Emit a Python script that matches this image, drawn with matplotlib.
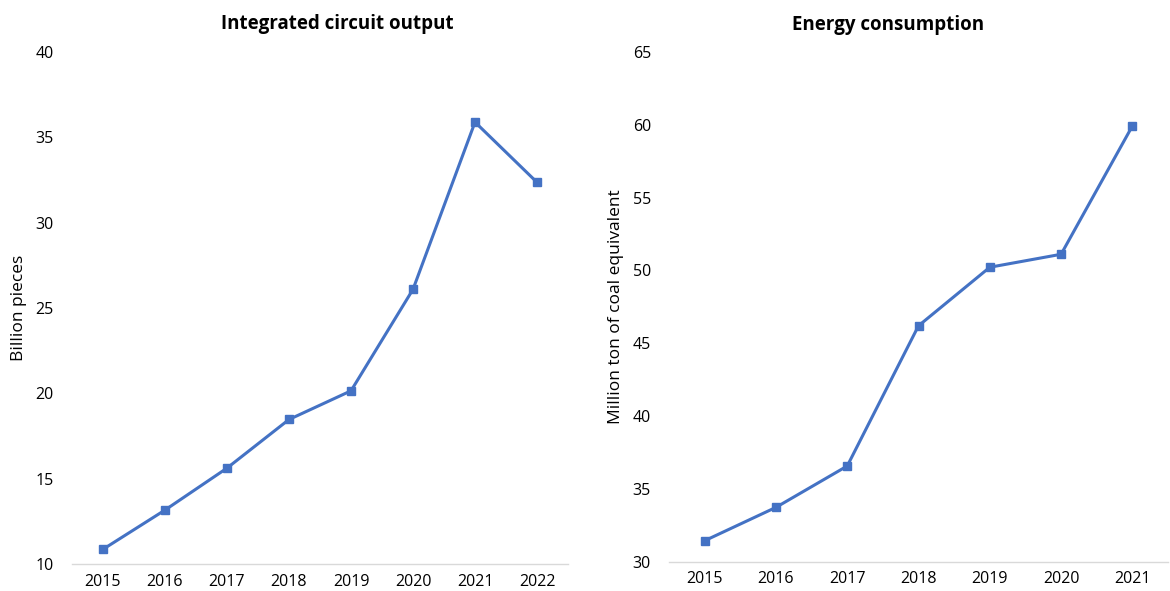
import matplotlib
matplotlib.use("Agg")
import matplotlib.pyplot as plt

plt.rcParams["font.family"] = ["Open Sans", "DejaVu Sans"]

years_ic = ["2015", "2016", "2017", "2018", "2019", "2020", "2021", "2022"]
ic_output = [10.86, 13.16, 15.62, 18.47, 20.15, 26.1, 35.9, 32.37]

years_energy = ["2015", "2016", "2017", "2018", "2019", "2020", "2021"]
energy_use = [31.44, 33.73, 36.57, 46.2, 50.22, 51.11, 59.92]

LINE_COLOR = "#4472C4"
AXIS_COLOR = "#D9D9D9"

fig = plt.figure(figsize=(11.70, 5.91), dpi=100)
ax1 = fig.add_axes([0.0615, 0.0457, 0.424, 0.866])
ax2 = fig.add_axes([0.5718, 0.0496, 0.4265, 0.8624])


def style_axes(ax, cats, vals, ylim, yticks, ylabel):
    x = list(range(len(cats)))
    ax.plot(x, vals, color=LINE_COLOR, lw=2.2, marker="s", ms=5.5,
            markeredgecolor=LINE_COLOR, markerfacecolor=LINE_COLOR)
    ax.set_xlim(-0.5, len(cats) - 0.5)
    ax.set_ylim(*ylim)
    ax.set_xticks(x)
    ax.set_xticklabels(cats)
    ax.set_yticks(yticks)
    for side in ("top", "right", "left"):
        ax.spines[side].set_visible(False)
    ax.spines["bottom"].set_color(AXIS_COLOR)
    ax.spines["bottom"].set_linewidth(1.0)
    ax.tick_params(axis="both", length=0, labelsize=11.5, colors="#000000")
    ax.tick_params(axis="x", pad=7)
    ax.tick_params(axis="y", pad=13)
    ax.set_ylabel(ylabel, fontsize=12.5)


style_axes(ax1, years_ic, ic_output, (10, 40), range(10, 41, 5), "Billion pieces")
style_axes(ax2, years_energy, energy_use, (30, 65), range(30, 66, 5),
           "Million ton of coal equivalent")
ax1.yaxis.set_label_coords(-0.09, 0.5)
ax2.yaxis.set_label_coords(-0.09, 0.5)

fig.text(337 / 1170, 1 - 24 / 591, "Integrated circuit output", ha="center", va="center",
         fontsize=13.5, fontweight="bold")
fig.text(888 / 1170, 1 - 25 / 591, "Energy consumption", ha="center", va="center",
         fontsize=13.5, fontweight="bold")

fig.savefig("out.png", dpi=100)
